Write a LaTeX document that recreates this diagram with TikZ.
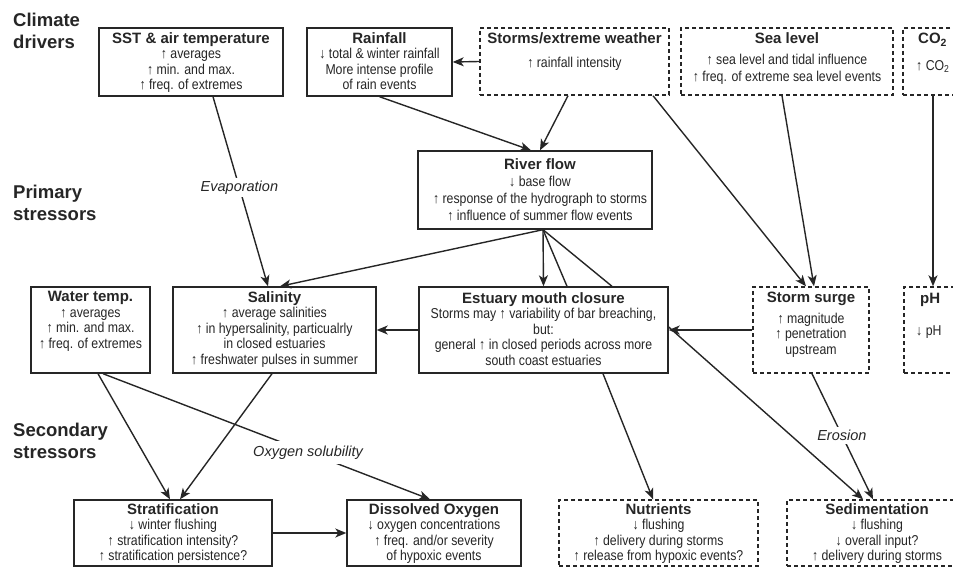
\documentclass[tikz,border=0pt]{standalone}
\usepackage{fontspec}
\setmainfont{Liberation Sans}
\newfontfamily\bodyfont{Liberation Sans}[FakeStretch=0.86]
\newfontfamily\titlefont{Liberation Sans}
\usetikzlibrary{arrows.meta,calc}
\tikzset{
  box/.style={draw=black!85, line width=1.4pt, inner sep=0pt, fill=white},
  dbox/.style={box, dash pattern=on 4pt off 3pt},
  txt/.style={anchor=north, inner sep=0pt, align=center, text=black!85,
    font=\bodyfont\fontsize{14.3}{15.5}\selectfont},
  cat/.style={anchor=north west, inner sep=0pt, align=left,
    font=\bfseries\fontsize{18.5}{20}\selectfont, text=black!85},
  lbl/.style={fill=white, inner sep=3pt, font=\itshape\fontsize{14.5}{16}\selectfont, text=black!85},
  conn/.style={line width=1.4pt, draw=black!85},
  arr/.style={conn, -{Stealth[length=11pt,width=9pt,inset=3pt]}},
}
\newcommand{\ttl}[1]{{\titlefont\bfseries\fontsize{15}{15.5}\selectfont #1}}
\begin{document}
\begin{tikzpicture}[x=1pt,y=-1pt]
\useasboundingbox (0,0) rectangle (953,567);
\clip (0,0) rectangle (953,567);
% category labels
\node[cat] (lclim) at (13,13) {Climate\\[2pt]drivers};
\node[cat] (lprim) at (13,185) {Primary\\[2pt]stressors};
\node[cat] (lsec) at (13,423) {Secondary\\[2pt]stressors};
% boxes
\node[box, minimum width=184, minimum height=68] (sst) at (191,62) {};
\node[box, minimum width=145, minimum height=68] (rain) at (379.5,62) {};
\node[dbox, minimum width=189, minimum height=67] (storm) at (574.5,61.5) {};
\node[dbox, minimum width=212, minimum height=67] (sea) at (787,61.5) {};
\node[dbox, minimum width=60, minimum height=67] (co2) at (933,61.5) {};
\node[box, minimum width=234, minimum height=78] (river) at (535,190) {};
\node[box, minimum width=119, minimum height=86] (water) at (90.5,330) {};
\node[box, minimum width=203, minimum height=86] (sal) at (274.5,330) {};
\node[box, minimum width=249, minimum height=86] (est) at (543.5,330) {};
\node[dbox, minimum width=116, minimum height=86] (surge) at (811,330) {};
\node[dbox, minimum width=56, minimum height=86] (ph) at (932,330) {};
\node[box, minimum width=198, minimum height=66] (strat) at (173,533) {};
\node[box, minimum width=174, minimum height=66] (dox) at (434,533) {};
\node[dbox, minimum width=199, minimum height=66] (nut) at (658.5,533) {};
\node[dbox, minimum width=180, minimum height=66] (sed) at (877,533) {};
% texts
\node[txt] (tsst) at ($(sst.north)+(0,5)$) {\ttl{SST \& air temperature}\\↑ averages\\↑ min. and max.\\↑ freq. of extremes};
\node[txt] (train) at ($(rain.north)+(0,5)$) {\ttl{Rainfall}\\↓ total \& winter rainfall\\More intense profile\\of rain events};
\node[txt] (tstorm) at ($(storm.north)+(0,5)$) {\ttl{Storms/extreme weather}\\[9pt]↑ rainfall intensity};
\node[txt] (tsea) at ($(sea.north)+(0,5)$) {\ttl{Sea level}\\[6pt]↑ sea level and tidal influence\\[1.5pt]↑ freq. of extreme sea level events};
\node[txt, anchor=north west] (tco2a) at (918,33) {\ttl{CO\textsubscript{2}}};
\node[txt, anchor=north west] (tco2b) at (916,60) {↑ CO\textsubscript{2}};
\node[txt] (triver) at ($(river.north)+(5,8)$) {\ttl{River flow}\\[2pt]↓ base flow\\[1.5pt]↑ response of the hydrograph to storms\\[1.5pt]↑ influence of summer flow events};
\node[txt] (twater) at ($(water.north)+(0,5)$) {\ttl{Water temp.}\\↑ averages\\↑ min. and max.\\↑ freq. of extremes};
\node[txt] (tsal) at ($(sal.north)+(0,5)$) {\ttl{Salinity}\\↑ average salinities\\↑ in hypersalinity, particualrly\\in closed estuaries\\↑ freshwater pulses in summer};
\node[txt] (test) at ($(est.north)+(0,6)$) {\ttl{Estuary mouth closure}\\Storms may ↑ variability of bar breaching,\\but:\\general ↑ in closed periods across more\\south coast estuaries};
\node[txt] (tsurge) at ($(surge.north)+(0,6)$) {\ttl{Storm surge}\\[5pt]↑ magnitude\\↑ penetration\\upstream};
\node[txt, anchor=north west] (tpha) at (920,293) {\ttl{pH}};
\node[txt, anchor=north west] (tphb) at (916,325) {↓ pH};
\node[txt] (tstrat) at ($(strat.north)+(0,4)$) {\ttl{Stratification}\\↓ winter flushing\\↑ stratification intensity?\\↑ stratification persistence?};
\node[txt] (tdox) at ($(dox.north)+(0,4)$) {\ttl{Dissolved Oxygen}\\↓ oxygen concentrations\\↑ freq. and/or severity\\of hypoxic events};
\node[txt] (tnut) at ($(nut.north)+(0,4)$) {\ttl{Nutrients}\\↓ flushing\\↑ delivery during storms\\↑ release from hypoxic events?};
\node[txt] (tsed) at ($(sed.north)+(0,4)$) {\ttl{Sedimentation}\\↓ flushing\\↓ overall input?\\↑ delivery during storms};
% connectors
\draw[arr] (storm.west) -- (rain.east);
\draw[arr] (rain.south) -- ([xshift=-4]river.north);
\draw[arr] ([xshift=-6.5]storm.south) -- ([xshift=5]river.north);
\draw[arr] ([xshift=78.5]storm.south) -- ([xshift=-5]surge.north);
\draw[arr] ([xshift=-5]sea.south) -- ([xshift=3]surge.north);
\draw[arr] (co2.south) -- ([xshift=1]ph.north);
\draw[arr] ([xshift=22]sst.south) -- node[lbl, pos=0.48] (levap) {Evaporation} ([xshift=-6.5]sal.north);
\draw[arr] ([xshift=8]river.south) -- ([xshift=5.5]sal.north);
\draw[arr] ([xshift=8]river.south) -- (est.north);
\draw[conn] ([xshift=8]river.south) -- ([xshift=23.5]est.north);
\draw[conn] ([xshift=8]river.south) -- ([xshift=68.5]est.north);
\draw[arr] (est.west) -- (sal.east);
\draw[arr] (surge.west) -- (est.east);
\draw[arr] ([yshift=3]est.east) -- ([xshift=-14]sed.north);
\draw[arr] ([xshift=1]surge.south) -- node[lbl, pos=0.49] (leros) {Erosion} ([xshift=-4]sed.north);
\draw[arr] ([xshift=59.5]est.south) -- ([xshift=-5.5]nut.north);
\draw[arr] ([xshift=7.5]water.south) -- ([xshift=-3]strat.north);
\draw[arr] ([xshift=-2.5]sal.south) -- ([xshift=7]strat.north);
\draw[arr] ([xshift=12.5]water.south) -- node[lbl, pos=0.627, inner sep=5pt] (loxy) {Oxygen solubility} ([xshift=-4]dox.north);
\draw[arr] (strat.east) -- (dox.west);
\end{tikzpicture}
\end{document}
